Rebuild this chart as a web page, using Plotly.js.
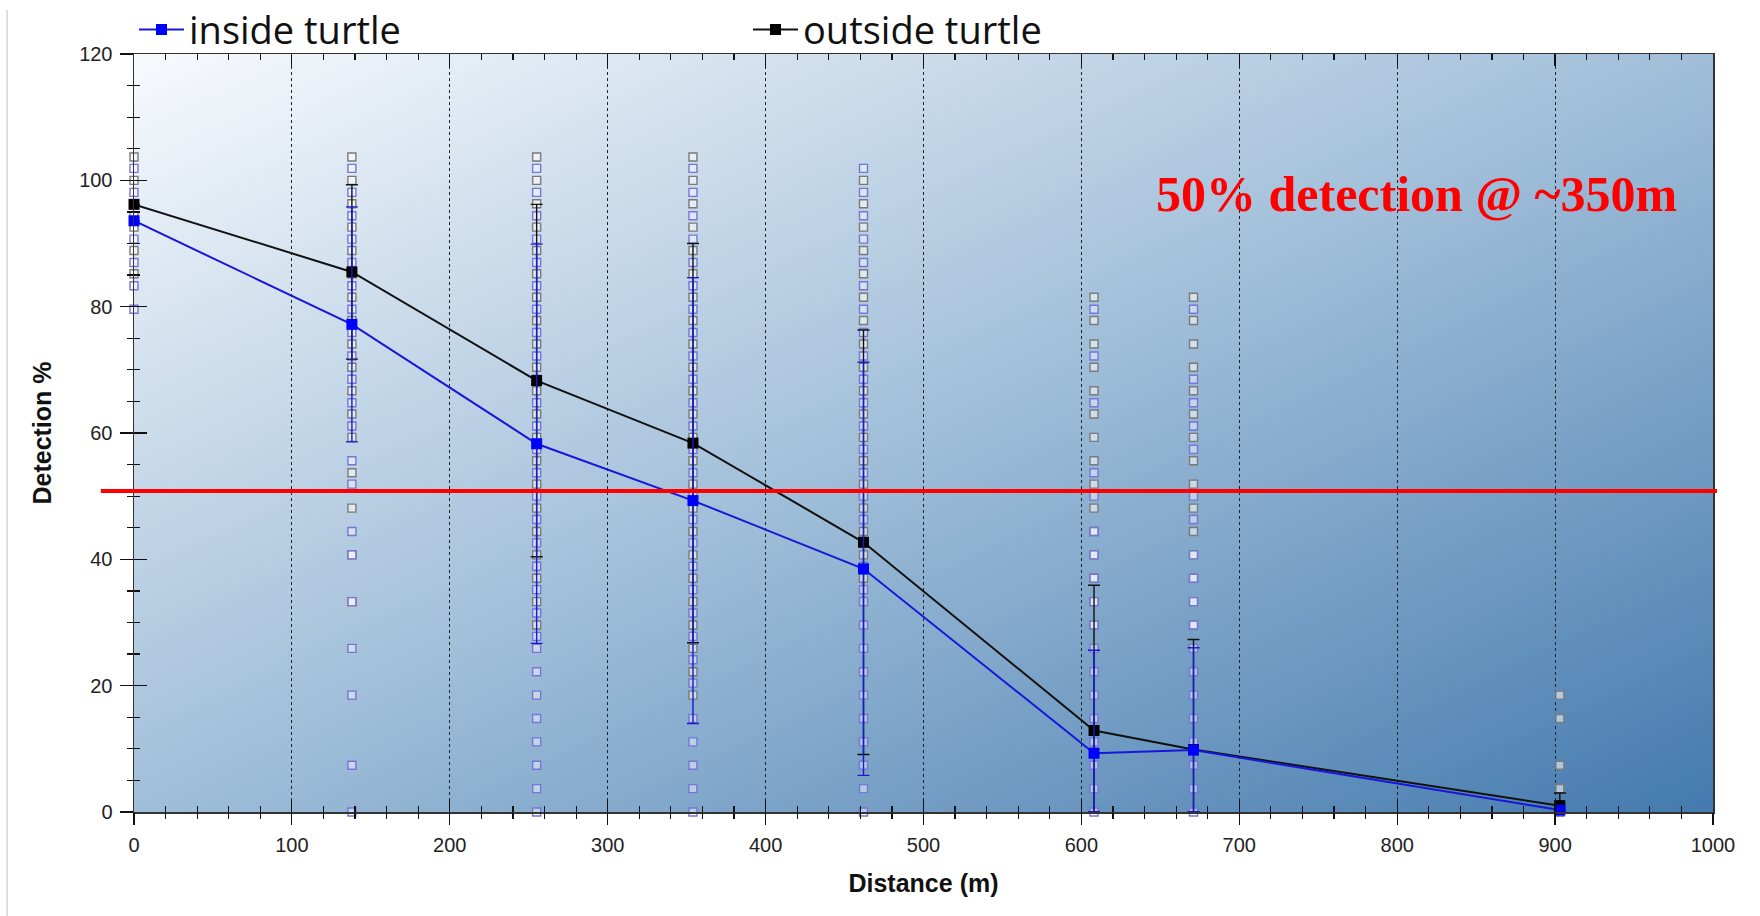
<!DOCTYPE html>
<html>
<head>
<meta charset="utf-8">
<script src="https://cdn.plot.ly/plotly-3.0.1.min.js"></script>
<style>
html,body{margin:0;padding:0;background:#fff;}
#chart{width:1760px;height:916px;}
</style>
</head>
<body>
<div id="chart"></div>
<script>
// ---- data ----
const distances = [0, 138, 255, 354, 462, 608, 671, 903];
const insideMean = [93.6, 77.2, 58.3, 49.3, 38.5, 9.3, 9.8, 0.3];
const outsideMean = [96.2, 85.5, 68.3, 58.4, 42.7, 12.9, 9.9, 1.0];
const insideErrPlus = [0, 18.6, 31.6, 35.3, 32.7, 16.3, 16.2, 0];
const insideErrMinus = [0, 18.6, 31.6, 35.3, 32.7, 9.3, 9.8, 0];
const outsideErrPlus = [0, 13.8, 27.9, 31.6, 33.6, 23.0, 17.4, 2.0];
const outsideErrMinus = [0, 13.8, 27.9, 31.6, 33.6, 12.9, 9.9, 1.0];

// individual observations (hollow squares) per distance
const insideAt0 = [101.9, 98.1, 94.4, 90.7, 87.0, 83.3, 79.6];
const outsideAt0 = [103.7, 100, 96.3, 92.6, 88.9, 85.2];
const insideAt138 = [101.9, 98.1, 94.4, 90.7, 87.0, 83.3, 79.6, 75.9, 72.2, 68.5, 64.8, 61.1, 55.6, 51.9, 44.4, 40.7, 33.3, 25.9, 18.5, 7.4, 0];
const outsideAt138 = [103.7, 100, 96.3, 92.6, 88.9, 85.2, 81.5, 77.8, 74.1, 70.4, 66.7, 63.0, 59.3, 53.7, 48.1, 40.7, 33.3];
const insideAt255 = [101.9, 98.1, 94.4, 90.7, 87.0, 83.3, 79.6, 75.9, 72.2, 68.5, 64.8, 61.1, 57.4, 53.7, 50.0, 46.3, 42.6, 38.9, 35.2, 31.5, 27.8, 25.9, 22.2, 18.5, 14.8, 11.1, 7.4, 3.7, 0];
const outsideAt255 = [103.7, 100, 96.3, 92.6, 88.9, 85.2, 81.5, 77.8, 74.1, 70.4, 66.7, 63.0, 59.3, 55.6, 51.9, 48.1, 44.4, 40.7, 37.0, 33.3, 29.6];
const insideAt354 = [101.9, 98.1, 94.4, 90.7, 87.0, 83.3, 79.6, 75.9, 72.2, 68.5, 64.8, 61.1, 57.4, 53.7, 50.0, 46.3, 42.6, 38.9, 35.2, 31.5, 27.8, 24.1, 20.4, 14.8, 11.1, 7.4, 3.7, 0];
const outsideAt354 = [103.7, 100, 96.3, 92.6, 88.9, 85.2, 81.5, 77.8, 74.1, 70.4, 66.7, 63.0, 59.3, 55.6, 51.9, 48.1, 44.4, 40.7, 37.0, 33.3, 29.6, 25.9, 22.2, 18.5];
const insideAt462 = [101.9, 98.1, 94.4, 90.7, 87.0, 83.3, 79.6, 75.9, 72.2, 68.5, 64.8, 61.1, 57.4, 53.7, 50.0, 46.3, 42.6, 38.9, 35.2, 33.3, 29.6, 25.9, 22.2, 18.5, 14.8, 11.1, 7.4, 3.7, 0];
const outsideAt462 = [100, 96.3, 92.6, 88.9, 85.2, 81.5, 77.8, 74.1, 70.4, 66.7, 63.0, 59.3, 55.6, 51.9, 48.1, 44.4, 40.7, 37.0];
const insideAt608 = [79.6, 72.2, 64.8, 53.7, 50.0, 44.4, 40.7, 37.0, 33.3, 29.6, 25.9, 22.2, 18.5, 14.8, 11.1, 7.4, 3.7, 0];
const outsideAt608 = [81.5, 77.8, 74.1, 70.4, 66.7, 63.0, 59.3, 55.6, 51.9, 48.1, 44.4, 40.7, 37.0, 33.3, 29.6];
const insideAt671 = [79.6, 68.5, 64.8, 61.1, 57.4, 50.0, 46.3, 40.7, 37.0, 33.3, 29.6, 25.9, 22.2, 18.5, 14.8, 11.1, 7.4, 3.7, 0];
const outsideAt671 = [81.5, 77.8, 74.1, 70.4, 66.7, 63.0, 59.3, 55.6, 51.9, 48.1, 44.4, 40.7, 37.0, 33.3, 29.6];
const insideAt903 = [0];
const outsideAt903 = [18.5, 14.8, 7.4, 3.7, 0];

const thresholdValue = 50.8;
const seriesNames = ['inside turtle', 'outside turtle'];
const annotationText = '50% detection @ ~350m';
const xTitle = 'Distance (m)';
const yTitle = 'Detection %';

// ---- build ----
const insideGroups = [insideAt0, insideAt138, insideAt255, insideAt354, insideAt462, insideAt608, insideAt671, insideAt903];
const outsideGroups = [outsideAt0, outsideAt138, outsideAt255, outsideAt354, outsideAt462, outsideAt608, outsideAt671, outsideAt903];
function flatten(groups) {
  const xs = [], ys = [];
  groups.forEach((g, i) => g.forEach(v => { xs.push(distances[i]); ys.push(v); }));
  return {xs, ys};
}
const inPts = flatten(insideGroups);
const outPts = flatten(outsideGroups);

const traces = [
  {x: outPts.xs, y: outPts.ys, type: 'scatter', mode: 'markers', showlegend: false, hoverinfo: 'skip', cliponaxis: false,
   marker: {symbol: 'square', size: 8, color: 'rgba(255,255,255,0.55)', line: {color: '#7a7a7a', width: 1.4}}},
  {x: inPts.xs, y: inPts.ys, type: 'scatter', mode: 'markers', showlegend: false, hoverinfo: 'skip', cliponaxis: false,
   marker: {symbol: 'square', size: 8, color: 'rgba(255,255,255,0.45)', line: {color: '#7676d8', width: 1.4}}},
  {x: distances, y: outsideMean, name: seriesNames[1], type: 'scatter', mode: 'lines+markers', cliponaxis: false, legendrank: 2,
   line: {color: '#111111', width: 2},
   marker: {symbol: 'square', size: 11, color: '#000000'},
   error_y: {type: 'data', symmetric: false, array: outsideErrPlus, arrayminus: outsideErrMinus, color: '#111111', thickness: 1.4, width: 6}},
  {x: distances, y: insideMean, name: seriesNames[0], type: 'scatter', mode: 'lines+markers', cliponaxis: false, legendrank: 1,
   line: {color: '#1717d9', width: 2},
   marker: {symbol: 'square', size: 11, color: '#0000ff'},
   error_y: {type: 'data', symmetric: false, array: insideErrPlus, arrayminus: insideErrMinus, color: '#1a1ad0', thickness: 1.4, width: 6}},
  {x: [], y: [], xaxis: 'x2', yaxis: 'y2', type: 'scatter', mode: 'markers', showlegend: false, hoverinfo: 'skip'}
];

const svg = "<svg xmlns='http://www.w3.org/2000/svg' width='1579' height='758' preserveAspectRatio='none'>" +
  "<defs><linearGradient id='g' x1='0' y1='0' x2='1' y2='1'>" +
  "<stop offset='0' stop-color='#f8fafd'/><stop offset='0.5' stop-color='#a0bed9'/><stop offset='1' stop-color='#447aae'/>" +
  "</linearGradient></defs><rect width='1579' height='758' fill='url(#g)'/></svg>";
const bgSrc = 'data:image/svg+xml;charset=utf-8,' + encodeURIComponent(svg);

const tickFont = {family: 'Liberation Sans, Arial, sans-serif', size: 20, color: '#222'};
const titleFont = {family: 'Liberation Sans, Arial, sans-serif', size: 25, color: '#111', weight: 'bold'};

const layout = {
  width: 1760, height: 916,
  margin: {l: 134, r: 47, t: 54, b: 104, autoexpand: false},
  paper_bgcolor: '#ffffff',
  plot_bgcolor: 'rgba(0,0,0,0)',
  showlegend: true,
  legend: {orientation: 'h', x: 0, xanchor: 'left', y: 1.032, yanchor: 'middle',
           font: {family: 'Liberation Sans Narrow, Open Sans, sans-serif', size: 38, color: '#111'},
           itemwidth: 45, entrywidth: 554, bgcolor: 'rgba(0,0,0,0)', tracegroupgap: 0},
  xaxis: {range: [0, 1000], tick0: 0, dtick: 100, ticks: 'inside', ticklen: 12, tickwidth: 1.2, tickcolor: '#111',
          mirror: 'ticks', showline: true, linecolor: '#333', linewidth: 1.5,
          minor: {dtick: 20, ticks: 'inside', ticklen: 6, tickcolor: '#111', showgrid: false},
          showgrid: true, gridcolor: '#222', griddash: 'dot', gridwidth: 1, zeroline: false,
          tickfont: tickFont, ticklabelstandoff: 14,
          title: {text: xTitle, font: titleFont, standoff: 20}},
  xaxis2: {overlaying: 'x', anchor: 'y', range: [0, 1000], tick0: 0, dtick: 100, ticks: 'outside', ticklen: 12, tickwidth: 1.2,
           tickcolor: '#111', minor: {dtick: 20, ticks: 'outside', ticklen: 6, tickcolor: '#111', showgrid: false},
           showticklabels: false, showline: false, showgrid: false, zeroline: false},
  yaxis: {range: [0, 120], tick0: 0, dtick: 20, ticks: 'inside', ticklen: 13, tickwidth: 1.2, tickcolor: '#111',
          mirror: true, showline: true, linecolor: '#333', linewidth: 1.5,
          minor: {dtick: 5, ticks: 'inside', ticklen: 6, tickcolor: '#111', showgrid: false},
          showgrid: false, zeroline: false, tickfont: tickFont, ticklabelstandoff: 16,
          title: {text: yTitle, font: titleFont, standoff: 20}},
  yaxis2: {overlaying: 'y', anchor: 'x', side: 'left', range: [0, 120], tick0: 0, dtick: 20, ticks: 'outside', ticklen: 13,
           tickwidth: 1.2, tickcolor: '#111', minor: {dtick: 5, ticks: 'outside', ticklen: 6, tickcolor: '#111', showgrid: false},
           showticklabels: false, showline: false, showgrid: false, zeroline: false},
  images: [{source: bgSrc, xref: 'paper', yref: 'paper', x: 0, y: 1, sizex: 1, sizey: 1,
            xanchor: 'left', yanchor: 'top', sizing: 'stretch', layer: 'below'}],
  shapes: [
    {type: 'line', xref: 'paper', yref: 'y', x0: -0.021, x1: 1.0025, y0: thresholdValue, y1: thresholdValue,
     line: {color: '#ff0000', width: 4}},
    {type: 'line', xref: 'paper', yref: 'paper', x0: -0.0804, x1: -0.0804, y0: -0.14, y1: 1.058,
     line: {color: '#d4d4d4', width: 1.5}}
  ],
  annotations: [
    {text: annotationText, x: 812, y: 97.8, xref: 'x', yref: 'y', xanchor: 'center', yanchor: 'middle', showarrow: false,
     font: {family: 'Liberation Serif, DejaVu Serif, serif', size: 50, color: '#ff0000', weight: 'bold'}}
  ]
};

Plotly.newPlot('chart', traces, layout, {displayModeBar: false, staticPlot: true});
</script>
</body>
</html>
